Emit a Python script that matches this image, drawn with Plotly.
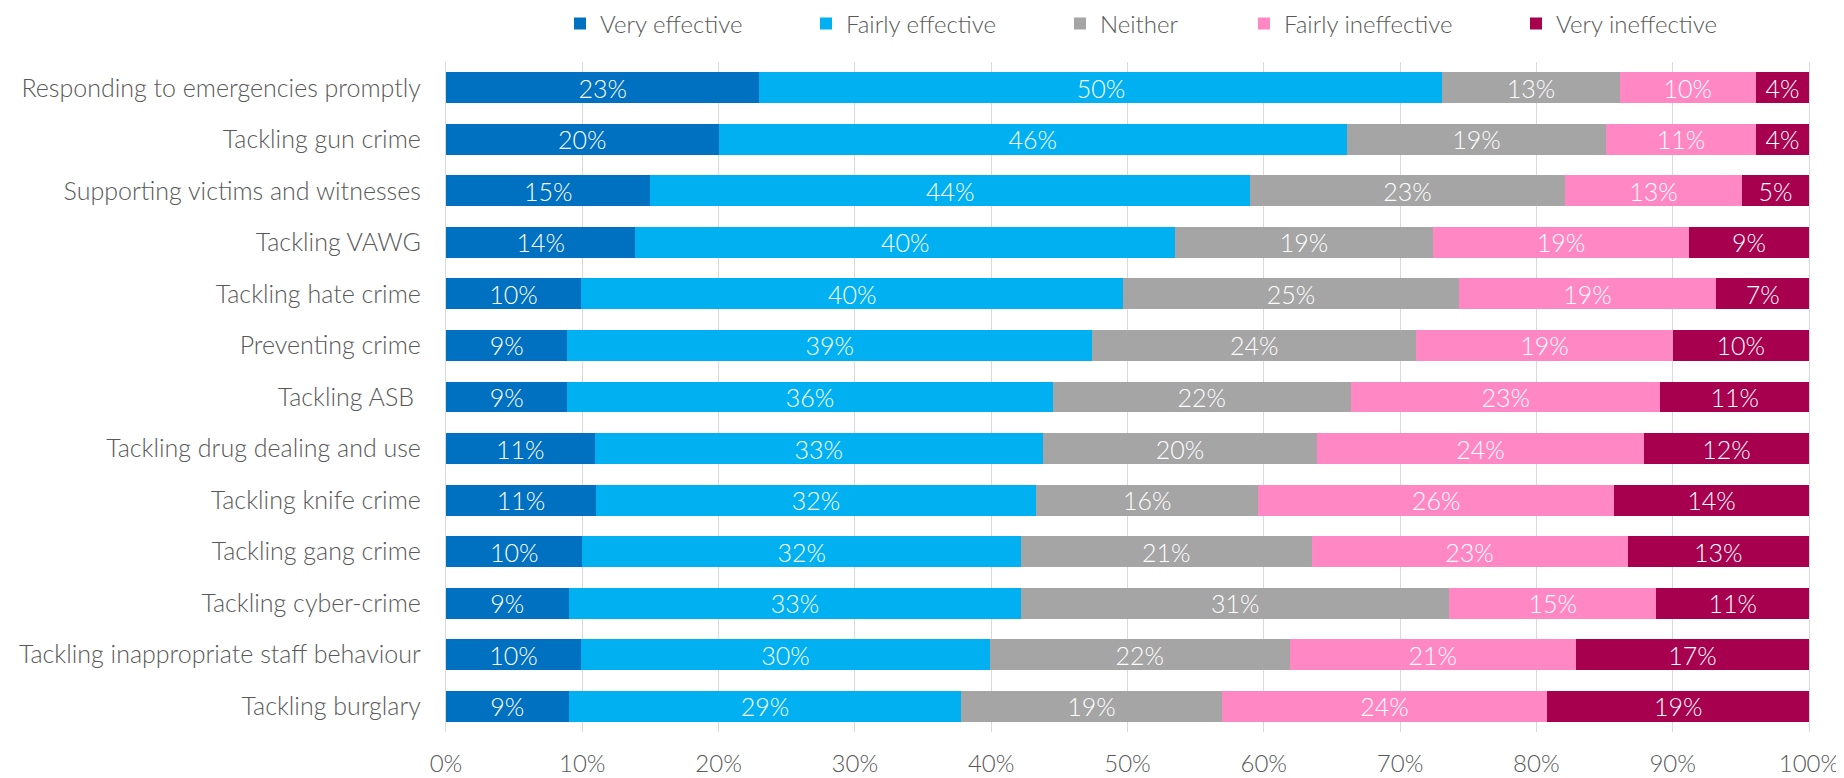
import plotly.graph_objects as go

categories = [
    "Responding to emergencies promptly",
    "Tackling gun crime",
    "Supporting victims and witnesses",
    "Tackling VAWG",
    "Tackling hate crime",
    "Preventing crime",
    "Tackling ASB ",
    "Tackling drug dealing and use",
    "Tackling knife crime",
    "Tackling gang crime",
    "Tackling cyber-crime",
    "Tackling inappropriate staff behaviour",
    "Tackling burglary",
]

very_effective = [23.0, 20.0, 15.0, 13.9, 9.9, 8.9, 8.9, 10.9, 11.0, 10.0, 9.0, 9.9, 9.0]
fairly_effective = [50.1, 46.1, 44.0, 39.6, 39.8, 38.5, 35.6, 32.9, 32.3, 32.2, 33.2, 30.0, 28.8]
neither = [13.0, 19.0, 23.1, 18.9, 24.6, 23.8, 21.9, 20.1, 16.3, 21.3, 31.4, 22.0, 19.1]
fairly_ineffective = [10.0, 11.0, 13.0, 18.8, 18.9, 18.8, 22.7, 24.0, 26.1, 23.2, 15.2, 21.0, 23.9]
very_ineffective = [3.9, 3.9, 4.9, 8.8, 6.8, 10.0, 10.9, 12.1, 14.3, 13.3, 11.2, 17.1, 19.2]

series_names = ["Very effective", "Fairly effective", "Neither", "Fairly ineffective", "Very ineffective"]
series_values = [very_effective, fairly_effective, neither, fairly_ineffective, very_ineffective]
colors = ["#0070C0", "#00B0F0", "#A5A5A5", "#FF88C4", "#A6004F"]

tick_vals = [0, 10, 20, 30, 40, 50, 60, 70, 80, 90, 100]
tick_text = [f"{v}%" for v in tick_vals]

FONT = "Lato"
GREY = "#595959"

# The page body adds an 8px margin, so the figure is sized to fit inside it.
W, H = 1836, 770
plot_l, plot_r = 438, 1801
plot_t, plot_b = 54, 724

fig = go.Figure()
legend_ids = ["legend", "legend2", "legend3", "legend4", "legend5"]
for name, vals, col, lg in zip(series_names, series_values, colors, legend_ids):
    fig.add_trace(go.Bar(
        y=categories, x=vals, name=name, orientation="h",
        marker=dict(color=col, line=dict(width=0)),
        text=vals, texttemplate="%{x:.0f}%", textposition="inside",
        insidetextanchor="middle", textangle=0, constraintext="none",
        textfont=dict(color="white", size=25, family=FONT, weight=300),
        legend=lg, hoverinfo="x+y+name",
    ))

legend_px = [552, 798, 1052, 1236, 1508]
layout_legends = {}
for lg, px in zip(legend_ids, legend_px):
    layout_legends[lg] = dict(
        x=(px - plot_l) / (plot_r - plot_l), xanchor="left",
        y=1 - 16 / H, yref="container", yanchor="middle",
        orientation="h", font=dict(size=24, color=GREY, family=FONT, weight=300),
        bgcolor="rgba(0,0,0,0)", itemwidth=30,
    )

fig.update_layout(
    barmode="stack",
    bargap=0.4,
    width=W, height=H,
    margin=dict(l=plot_l, r=W - plot_r, t=plot_t, b=H - plot_b, autoexpand=False),
    plot_bgcolor="white", paper_bgcolor="white",
    font=dict(family=FONT, color=GREY, size=24, weight=300),
    showlegend=True,
    **layout_legends,
)
fig.update_xaxes(
    range=[0, 100], tickvals=tick_vals, ticktext=tick_text,
    showgrid=True, gridcolor="#D9D9D9", gridwidth=1.3,
    zeroline=False, showline=False, automargin=False,
    tickfont=dict(size=24, color=GREY, family=FONT, weight=300),
    ticks="", ticklabelstandoff=15,
)
fig.update_yaxes(
    autorange="reversed", showgrid=False, automargin=False,
    showline=True, linecolor="#D9D9D9", linewidth=1.3, mirror=True,
    tickfont=dict(size=25, color=GREY, family=FONT, weight=300),
    ticks="", ticklabelstandoff=19,
)

fig.write_html("out.html")
